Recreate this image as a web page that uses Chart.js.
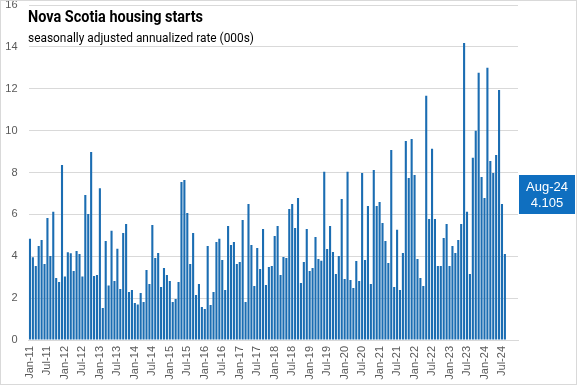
<!DOCTYPE html>
<html><head><meta charset="utf-8">
<script src="https://cdn.jsdelivr.net/npm/chart.js@4/dist/chart.umd.min.js"></script>
<style>
html,body{margin:0;padding:0;background:#fff;}
#wrap{position:relative;width:577px;height:385px;overflow:hidden;}
#c{position:absolute;left:0;top:0;}
.txt{position:absolute;left:28px;white-space:nowrap;color:#000;transform-origin:0 0;font-family:Roboto,"Liberation Sans",sans-serif;line-height:1;}
#title{top:9px;font-weight:bold;font-size:16.5px;}
#sub{top:31px;font-size:13px;}
</style></head>
<body>
<div id="wrap">
<canvas id="c" width="577" height="385"></canvas>
<div id="title" class="txt">Nova Scotia housing starts</div>
<div id="sub" class="txt">seasonally adjusted annualized rate (000s)</div>
</div>
<script>
// Monthly categories Jan-11 .. Aug-24
const monthNames = ['Jan','Feb','Mar','Apr','May','Jun','Jul','Aug','Sep','Oct','Nov','Dec'];
const years = ['11','12','13','14','15','16','17','18','19','20','21','22','23','24'];
const categories = [];
years.forEach(y => monthNames.forEach(m => categories.push(m + '-' + y)));
categories.length = 164; // through Aug-24
// empty trailing slots of the original axis
const emptySlots = ['Sep-24','Oct-24','Nov-24','Dec-24'];

// Housing starts, SAAR (000s)
const starts = [
 4.83,3.95,3.54,4.49,4.78,3.63,5.83,4.01,6.12,2.96,2.77,8.36,
 3.03,4.19,4.14,3.30,4.25,4.11,3.03,6.93,6.02,8.98,3.06,3.11,
 7.25,1.53,4.73,2.60,5.22,2.82,4.36,2.44,5.11,5.54,2.29,2.39,
 1.77,1.69,2.25,1.82,3.34,2.68,5.49,3.92,4.16,2.53,3.44,3.11,
 2.82,1.82,1.96,2.77,7.55,7.64,6.07,3.63,5.11,2.15,2.68,1.58,
 1.48,4.49,1.67,2.29,4.68,4.83,3.82,2.39,5.45,4.54,4.68,3.63,
 3.73,5.73,1.82,6.50,4.54,2.58,4.40,3.39,5.30,2.63,3.49,3.54,
 4.97,5.45,3.11,3.97,3.92,6.26,6.50,5.35,6.78,2.72,3.73,5.30,
 3.30,3.44,4.92,3.87,3.78,8.03,4.35,5.45,4.20,3.15,4.01,6.74,
 2.91,8.03,2.87,2.48,3.77,2.82,7.98,3.82,6.40,2.68,8.12,6.40,
 6.59,5.59,4.73,3.68,9.08,2.53,5.26,2.39,4.16,9.51,7.74,9.60,
 7.88,3.87,2.96,2.58,11.66,5.78,9.13,5.78,3.54,3.54,4.87,5.54,
 3.54,4.49,4.16,4.78,5.54,14.19,6.12,3.15,8.70,9.99,12.76,7.79,
 6.78,13.00,8.55,7.98,8.84,11.94,6.50,4.105
];

const xTickLabels = ['Jan-11','Jul-11','Jan-12','Jul-12','Jan-13','Jul-13','Jan-14','Jul-14',
 'Jan-15','Jul-15','Jan-16','Jul-16','Jan-17','Jul-17','Jan-18','Jul-18','Jan-19','Jul-19',
 'Jan-20','Jul-20','Jan-21','Jul-21','Jan-22','Jul-22','Jan-23','Jul-23','Jan-24','Jul-24'];
const yTickValues = [0,2,4,6,8,10,12,14,16];

const allLabels = categories.concat(emptySlots);

// squeeze heading text horizontally to the reference's narrow face
function fitWidth(id, target) {
  const el = document.getElementById(id);
  const w = el.getBoundingClientRect().width;
  if (w > 0) el.style.transform = 'scaleX(' + (target / w) + ')';
}
fitWidth('title', 175);
fitWidth('sub', 226);

const frame = {
  id: 'frame',
  afterDraw(chart) {
    const ctx = chart.ctx;
    ctx.save();
    ctx.strokeStyle = '#d9d9d9';
    ctx.lineWidth = 1;
    ctx.strokeRect(0.5, 0.5, chart.width - 1, chart.height - 1);
    // latest value callout
    const lastIdx = starts.length - 1;
    ctx.fillStyle = '#0f6fc0';
    ctx.fillRect(519, 175, 56, 39);
    ctx.fillStyle = '#ffffff';
    ctx.font = '13px "Liberation Sans", Arial, sans-serif';
    ctx.textAlign = 'center';
    ctx.textBaseline = 'middle';
    ctx.fillText(categories[lastIdx], 547, 187);
    ctx.fillText(starts[lastIdx].toFixed(3), 547, 203);
    ctx.restore();
  }
};

new Chart(document.getElementById('c'), {
  type: 'bar',
  data: {
    labels: allLabels,
    datasets: [{
      data: starts,
      backgroundColor: '#1b6db2',
      borderWidth: 0,
      barPercentage: 0.72,
      categoryPercentage: 1.0
    }]
  },
  options: {
    responsive: false,
    animation: false,
    devicePixelRatio: 1,
    layout: { padding: { left: 0, right: 59, top: 5, bottom: 0 } },
    plugins: { legend: { display: false }, tooltip: { enabled: false }, title: { display: false } },
    scales: {
      x: {
        offset: true,
        grid: { display: false, drawTicks: false },
        border: { display: true, color: '#d9d9d9' },
        ticks: {
          autoSkip: false,
          minRotation: 90,
          maxRotation: 90,
          padding: 6,
          color: '#595959',
          font: { family: '"Liberation Sans", Arial, sans-serif', size: 11 },
          callback: function (v) {
            const l = this.getLabelForValue(v);
            return xTickLabels.includes(l) ? l : '';
          }
        },
        afterFit(s) { s.height = 45; s.paddingLeft = 0; s.paddingRight = 0; s.paddingTop = 0; s.paddingBottom = 0; }
      },
      y: {
        min: 0, max: 16,
        grid: { color: '#d9d9d9', drawTicks: false },
        border: { display: false },
        afterBuildTicks(s) { s.ticks = yTickValues.map(v => ({ value: v })); },
        ticks: {
          padding: 11,
          color: '#595959',
          font: { family: '"Liberation Sans", Arial, sans-serif', size: 11 }
        },
        afterFit(s) { s.width = 28.5; s.paddingTop = 0; s.paddingBottom = 0; s.paddingLeft = 0; s.paddingRight = 0; }
      }
    }
  },
  plugins: [frame]
});
</script>
</body></html>
